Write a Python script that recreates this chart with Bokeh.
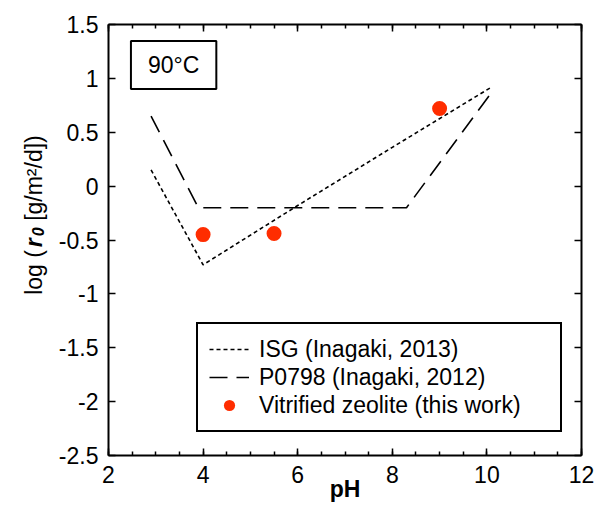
import numpy as np
from bokeh.plotting import figure
from bokeh.layouts import row
from bokeh.models import (Range1d, LinearAxis, FixedTicker, Label, Legend, LegendItem)
from bokeh.embed import file_html
from bokeh.resources import INLINE

# ---- data ----
isg_ph = [2.9, 4.0, 6.0, 8.0, 10.1]
isg_log = [0.15, -0.73, -0.18, 0.36, 0.92]
p0798_ph = [2.9, 3.9, 8.3, 10.1]
p0798_log = [0.65, -0.20, -0.20, 0.87]
zeo_ph = [4.0, 5.5, 9.0]
zeo_log = [-0.45, -0.44, 0.72]
x_ticks = [2, 4, 6, 8, 10, 12]
y_ticks = [-2.5, -2, -1.5, -1, -0.5, 0, 0.5, 1, 1.5]
y_tick_labels = ["-2.5", "-2", "-1.5", "-1", "-0.5", "0", "0.5", "1", "1.5"]
legend_labels = ["ISG (Inagaki, 2013)", "P0798 (Inagaki, 2012)", "Vitrified zeolite (this work)"]

FONT = "Liberation Sans"
FS = "23px"
W_LAB = 50
H = 507

# ---- narrow figure holding the rotated y-axis title ----
lf = figure(width=W_LAB, height=H, output_backend="svg", toolbar_location=None,
            x_range=Range1d(0, W_LAB), y_range=Range1d(0, H),
            min_border_left=0, min_border_right=0, min_border_top=0, min_border_bottom=0,
            x_axis_location=None, y_axis_location=None)
lf.xgrid.visible = False
lf.ygrid.visible = False
lf.outline_line_color = None
ylab = [("log (", 33, H - 318, "normal", FS),
        ("r", 33, H - 262, "bold italic", FS),
        ("0", 37, H - 249, "bold italic", "16px"),
        ("[g/m²/d])", 33, H - 231, "normal", FS)]
for txt, xx, yy, st, fs in ylab:
    lf.add_layout(Label(x=xx, y=yy, text=txt, angle=np.pi / 2, text_align="left",
                        text_baseline="alphabetic", text_font=FONT, text_font_size=fs,
                        text_font_style=st, text_color="black"))

# ---- main figure ----
p = figure(width=596 - W_LAB, height=H, output_backend="svg", toolbar_location=None,
           x_range=Range1d(2, 12), y_range=Range1d(-2.5, 1.5),
           min_border_left=108 - W_LAB, min_border_right=15, min_border_top=24, min_border_bottom=52,
           x_axis_location=None, y_axis_location=None)
p.xgrid.visible = False
p.ygrid.visible = False
p.outline_line_color = None

minor_x = list(np.arange(2, 12.01, 0.5))

def style_axis(ax, labels=True):
    ax.axis_line_width = 2
    ax.axis_line_color = "black"
    ax.major_tick_in = 7
    ax.major_tick_out = 0
    ax.major_tick_line_width = 1.5
    ax.major_tick_line_color = "black"
    ax.minor_tick_in = 4
    ax.minor_tick_out = 0
    ax.minor_tick_line_width = 1.5
    ax.minor_tick_line_color = "black"
    ax.major_label_text_font = FONT
    ax.major_label_text_font_size = FS
    ax.major_label_text_color = "black"
    if not labels:
        ax.major_label_standoff = 0

xb = LinearAxis(ticker=FixedTicker(ticks=x_ticks, minor_ticks=minor_x))
style_axis(xb)
xb.major_label_standoff = 10
xb.axis_label = "pH"
xb.axis_label_text_font = FONT
xb.axis_label_text_font_size = FS
xb.axis_label_text_font_style = "bold"
xb.axis_label_text_color = "black"
xb.axis_label_standoff = -10
p.add_layout(xb, "below")
xt = LinearAxis(ticker=FixedTicker(ticks=x_ticks, minor_ticks=minor_x))
style_axis(xt, labels=False)
xt.major_label_overrides = {t: "" for t in x_ticks}
p.add_layout(xt, "above")

yl = LinearAxis(ticker=FixedTicker(ticks=y_ticks, minor_ticks=[]))
style_axis(yl)
yl.major_label_standoff = 10
yl.major_label_overrides = {t: s for t, s in zip(y_ticks, y_tick_labels)}
p.add_layout(yl, "left")
yr = LinearAxis(ticker=FixedTicker(ticks=y_ticks, minor_ticks=[]))
style_axis(yr, labels=False)
yr.major_label_overrides = {t: "" for t in y_ticks}
p.add_layout(yr, "right")

r1 = p.line(isg_ph, isg_log, line_color="black", line_width=1.6, line_dash="4 3")
r2 = p.line(p0798_ph, p0798_log, line_color="black", line_width=1.6, line_dash="18 9")
r3 = p.scatter(zeo_ph, zeo_log, size=15, fill_color="#FF2D00", line_color=None)

legend = Legend(items=[LegendItem(label=legend_labels[0], renderers=[r1]),
                       LegendItem(label=legend_labels[1], renderers=[r2]),
                       LegendItem(label=legend_labels[2], renderers=[r3])],
                location=(88, 23), orientation="vertical",
                glyph_width=40, glyph_height=28, label_height=28, label_width=290,
                spacing=0, padding=11, margin=0, label_standoff=10,
                label_text_font=FONT, label_text_font_size=FS, label_text_color="black",
                border_line_color="black", border_line_width=2, border_line_alpha=1,
                background_fill_color="white", background_fill_alpha=1)
p.add_layout(legend, "center")

p.add_layout(Label(x=3.377, y=1.124, text="90°C", text_align="center", text_baseline="middle",
                   text_font=FONT, text_font_size=FS, text_color="black", padding=(17, 11),
                   border_line_color="black", border_line_width=2,
                   background_fill_color="white"))

layout = row(lf, p, spacing=0)
open("out.html", "w").write(file_html(layout, INLINE))
